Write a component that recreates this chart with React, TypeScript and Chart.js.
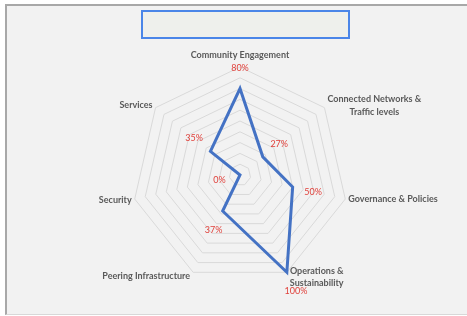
import React, { useEffect, useRef } from "react";
import { Chart, registerables } from "chart.js";

Chart.register(...registerables);

const categories: string[][] = [
  ["Community Engagement"],
  ["Connected Networks &", "Traffic levels"],
  ["Governance & Policies"],
  ["Operations &", "Sustainability"],
  ["Peering Infrastructure"],
  ["Security"],
  ["Services"],
];
const values: number[] = [80, 27, 50, 100, 37, 0, 35];
const valueLabels: string[] = ["80%", "27%", "50%", "100%", "37%", "0%", "35%"];
const scaleMin = 0;
const scaleMax = 100;
const scaleStep = 10;

// style: vertical nudges for category labels (px), gap from outer vertex
const catNudgeY = [-12, -2, 0, 5, 4, 1, -3];
const catGap = 3;
const valueGap = 21;

const labelPlugin = {
  id: "customLabels",
  afterDatasetsDraw(chart: any) {
    const scale = chart.scales.r;
    const ctx = chart.ctx as CanvasRenderingContext2D;
    const R = scale.drawingArea;
    ctx.save();
    ctx.textBaseline = "middle";
    ctx.textAlign = "center";
    ctx.font = "bold 9px Lato";
    ctx.fillStyle = "#595959";
    const lineH = 12.5;
    categories.forEach((lines, i) => {
      const p = scale.getPointPosition(i, R);
      const dx = p.x - scale.xCenter;
      const maxW = Math.max(...lines.map((l) => ctx.measureText(l).width));
      let cx = p.x;
      if (dx > 1) cx = p.x + catGap + maxW / 2;
      else if (dx < -1) cx = p.x - catGap - maxW / 2;
      const cy = p.y + catNudgeY[i];
      const top = cy - ((lines.length - 1) * lineH) / 2;
      lines.forEach((l, k) => ctx.fillText(l, cx, top + k * lineH));
    });
    ctx.font = "9px Lato";
    ctx.fillStyle = "#e0413b";
    values.forEach((v, i) => {
      const d = scale.getDistanceFromCenterForValue(v) + valueGap;
      const p = scale.getPointPosition(i, d);
      ctx.fillText(valueLabels[i], p.x, p.y);
    });
    ctx.restore();
  },
};

export default function App() {
  const ref = useRef<HTMLCanvasElement | null>(null);
  useEffect(() => {
    if (!ref.current) return;
    const chart = new Chart(ref.current, {
      type: "radar",
      data: {
        labels: categories.map((c) => c.join(" ")),
        datasets: [
          {
            data: values,
            borderColor: "#4472c4",
            borderWidth: 3,
            backgroundColor: "rgba(0,0,0,0)",
            fill: false,
            pointRadius: 0,
            pointHoverRadius: 0,
            tension: 0,
            clip: false as any,
          },
        ],
      },
      options: {
        responsive: false,
        maintainAspectRatio: false,
        animation: false,
        layout: { padding: { left: 132, right: 119, top: 67, bottom: 33 } },
        plugins: { legend: { display: false }, tooltip: { enabled: false }, title: { display: false } },
        scales: {
          r: {
            min: scaleMin,
            max: scaleMax,
            ticks: { display: false, stepSize: scaleStep },
            angleLines: { display: false },
            grid: { color: "#d9d9d9", lineWidth: 1 },
            pointLabels: { display: false },
          },
        },
      },
      plugins: [labelPlugin],
    });
    return () => chart.destroy();
  }, []);
  return (
    <div style={{ position: "fixed", left: 0, top: 0, width: 467, height: 316, background: "#ffffff", overflow: "hidden" }}>
      <div
        style={{
          position: "absolute",
          left: 5,
          top: 4,
          width: 470,
          height: 308,
          background: "#f2f2f2",
          borderTop: "2px solid #a8a8a8",
          borderLeft: "2px solid #a8a8a8",
          borderBottom: "1px solid #d8d8d8",
        }}
      />
      <div
        style={{
          position: "absolute",
          left: 141,
          top: 10,
          width: 205,
          height: 25,
          background: "#eef0ec",
          border: "2px solid #4a86e8",
        }}
      />
      <canvas ref={ref} width={467} height={316} style={{ position: "absolute", left: 0, top: 0, width: 467, height: 316 }} />
    </div>
  );
}
